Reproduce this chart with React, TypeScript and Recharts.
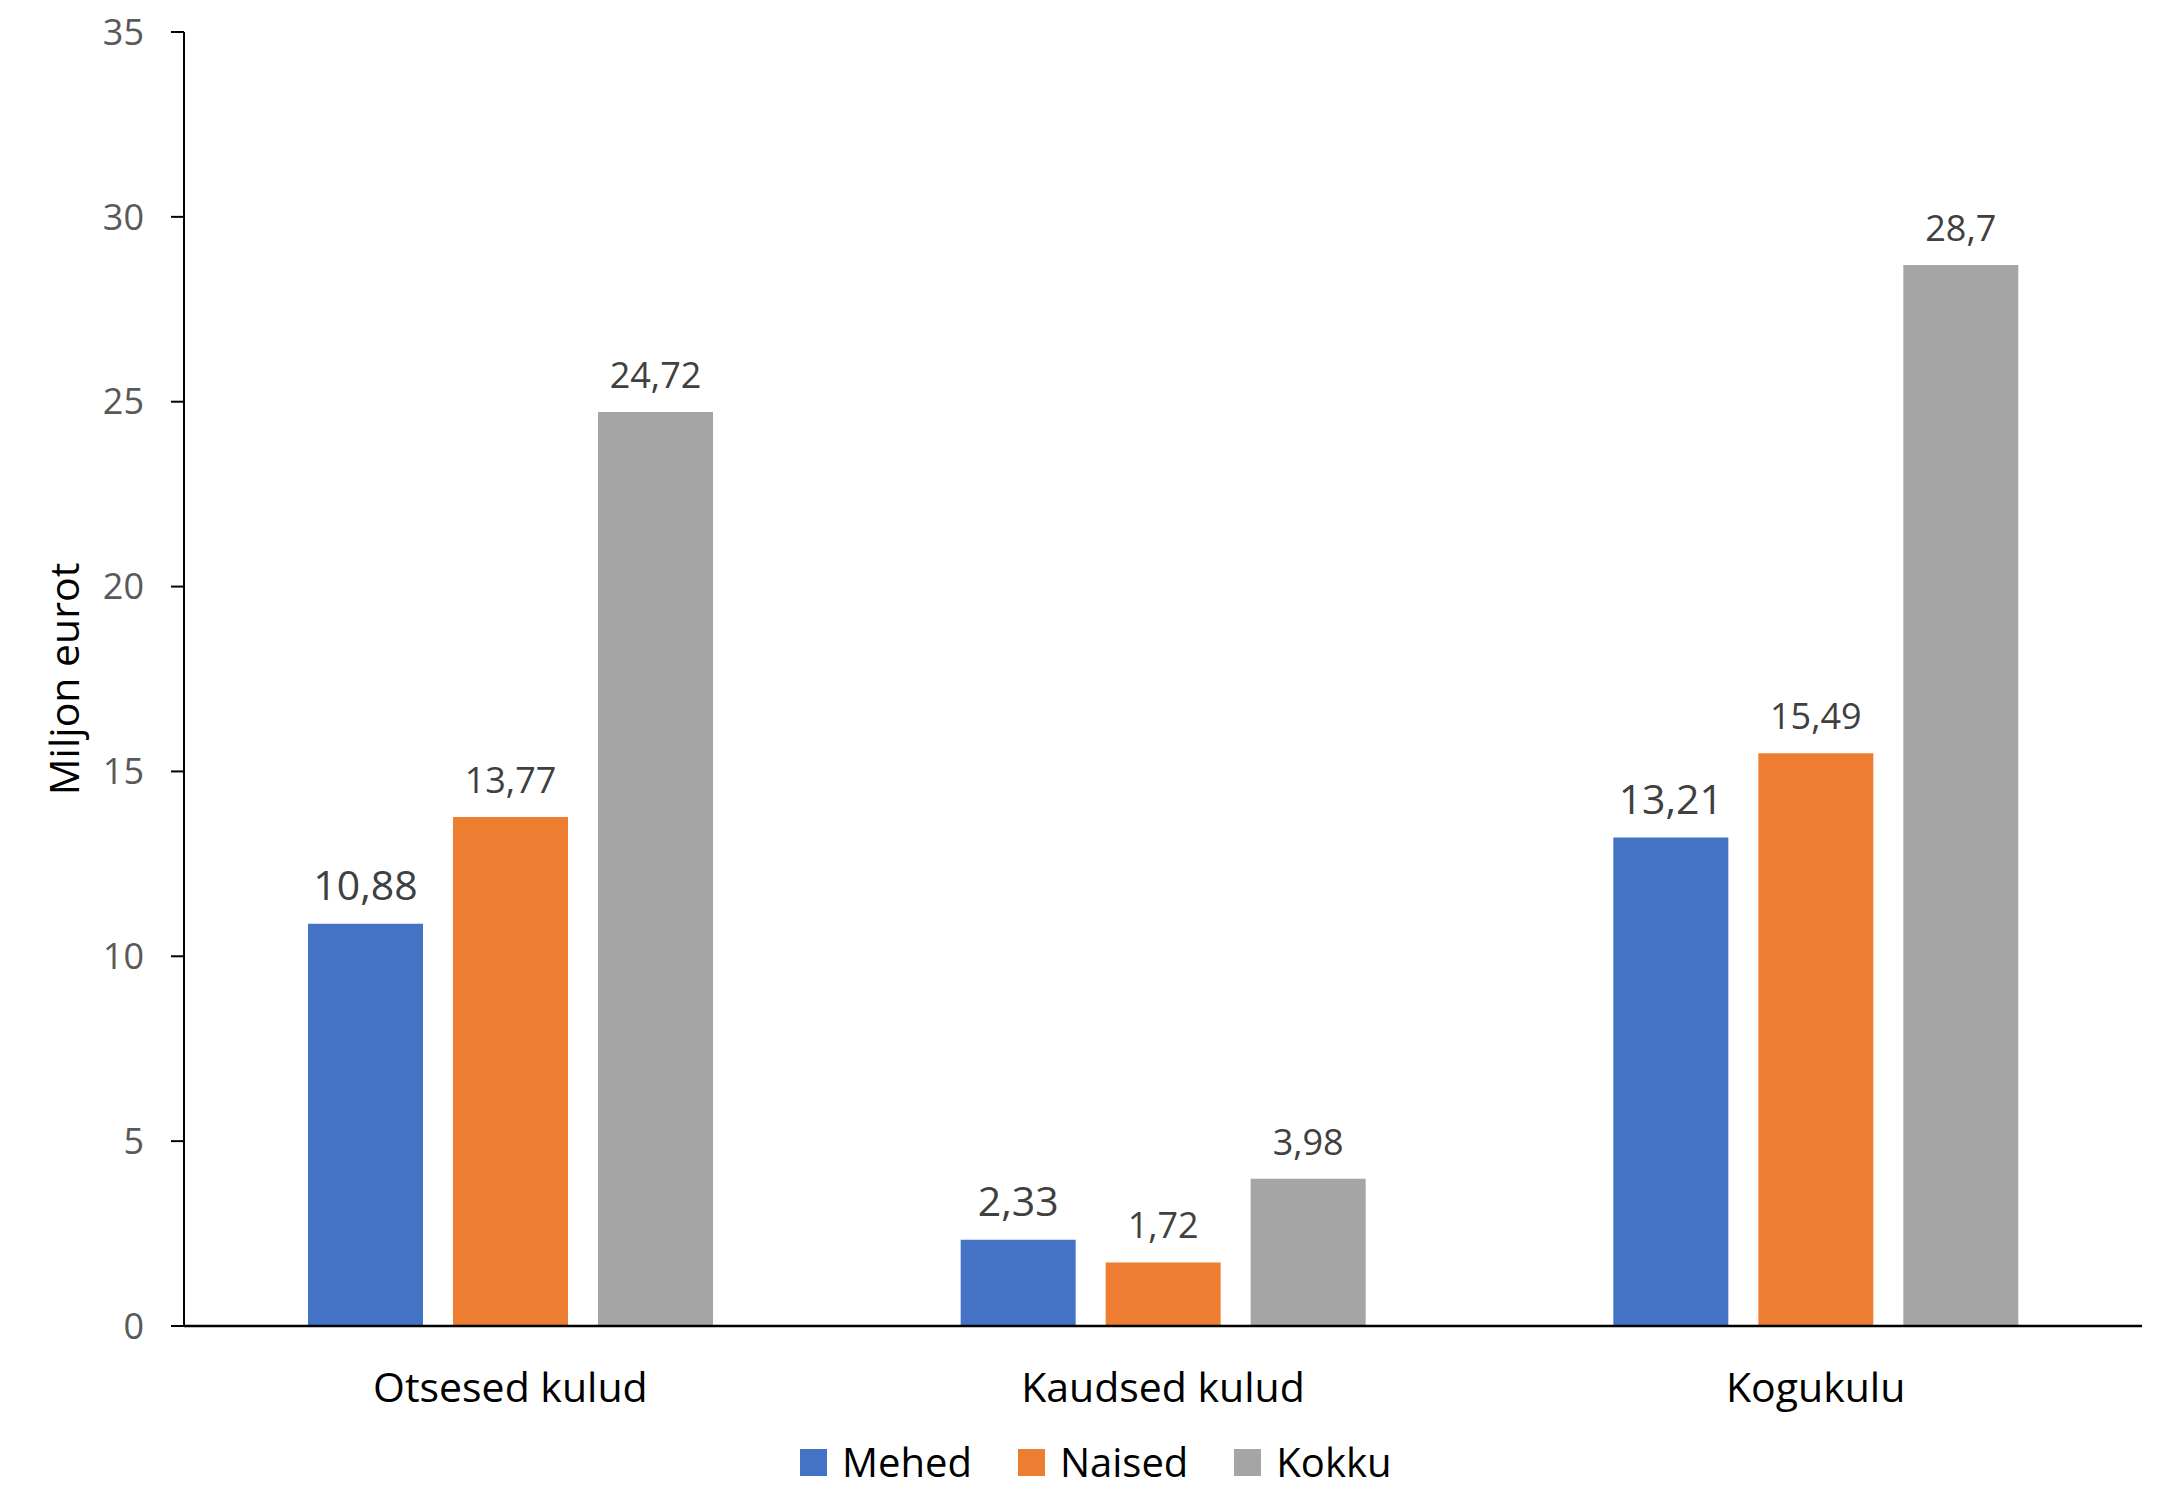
import React from "react";
import { BarChart, Bar, XAxis, YAxis, Legend, LabelList, Label } from "recharts";

// Expense categories and values (million euros) by group
const categories = ["Otsesed kulud", "Kaudsed kulud", "Kogukulu"];
const mehed = [10.88, 2.33, 13.21];
const naised = [13.77, 1.72, 15.49];
const kokku = [24.72, 3.98, 28.7];
const yTicks = [0, 5, 10, 15, 20, 25, 30, 35];

const seriesNames = ["Mehed", "Naised", "Kokku"];
const seriesColors = ["#4472C4", "#ED7D31", "#A5A5A5"];

const data = categories.map((name, i) => ({
  name,
  Mehed: mehed[i],
  Naised: naised[i],
  Kokku: kokku[i],
}));

const FONT = "'Open Sans', 'Noto Sans', sans-serif";

const fmt = (v: any) => String(v).replace(".", ",");

const YTitle = (props: any) => {
  const vb = props.viewBox || { x: 0, y: 0, height: 0 };
  const x = vb.x + 79;
  const y = vb.y + vb.height / 2;
  return (
    <text
      x={x}
      y={y}
      transform={`rotate(-90, ${x}, ${y})`}
      textAnchor="middle"
      fontFamily={FONT}
      fontSize={41}
      fill="#000000"
    >
      Miljon eurot
    </text>
  );
};

// Legend drawn in series order (Mehed, Naised, Kokku)
const LegendContent = () => (
  <div
    style={{
      display: "flex",
      alignItems: "center",
      height: 40,
      paddingLeft: 800,
      fontFamily: FONT,
      fontSize: 40,
      color: "#000000",
    }}
  >
    {seriesNames.map((name, i) => (
      <div key={name} style={{ display: "flex", alignItems: "center", marginRight: 46 }}>
        <div style={{ width: 27, height: 27, background: seriesColors[i], marginRight: 15 }} />
        <span style={{ lineHeight: "40px" }}>{name}</span>
      </div>
    ))}
  </div>
);

export default function App() {
  return (
    <div style={{ position: "absolute", left: 0, top: 0, background: "#ffffff" }}>
      <BarChart
        width={2168}
        height={1490}
        data={data}
        margin={{ top: 32, right: 26, left: 0, bottom: 8 }}
        barCategoryGap={124}
        barGap={30}
      >
        <XAxis
          dataKey="name"
          height={116}
          tickLine={false}
          tickSize={0}
          tickMargin={47}
          axisLine={{ stroke: "#000000", strokeWidth: 2.5 }}
          tick={{ fontFamily: FONT, fontSize: 41, fill: "#000000" }}
        />
        <YAxis
          width={184}
          domain={[0, 35]}
          ticks={yTicks}
          interval={0}
          tickSize={13}
          tickMargin={27}
          axisLine={{ stroke: "#000000", strokeWidth: 2 }}
          tickLine={{ stroke: "#000000", strokeWidth: 2 }}
          tick={{ fontFamily: FONT, fontSize: 36, fill: "#595959" }}
        >
          <Label content={<YTitle />} />
        </YAxis>
        <Legend
          verticalAlign="bottom"
          wrapperStyle={{ left: 0, width: 2168 }}
          content={<LegendContent />}
        />
        {seriesNames.map((s, i) => (
          <Bar key={s} dataKey={s} name={s} fill={seriesColors[i]} isAnimationActive={false}>
            <LabelList
              dataKey={s}
              position="top"
              offset={24}
              formatter={fmt}
              fill="#404040"
              fontFamily={FONT}
              fontSize={i === 0 ? 41 : 36}
            />
          </Bar>
        ))}
      </BarChart>
    </div>
  );
}
